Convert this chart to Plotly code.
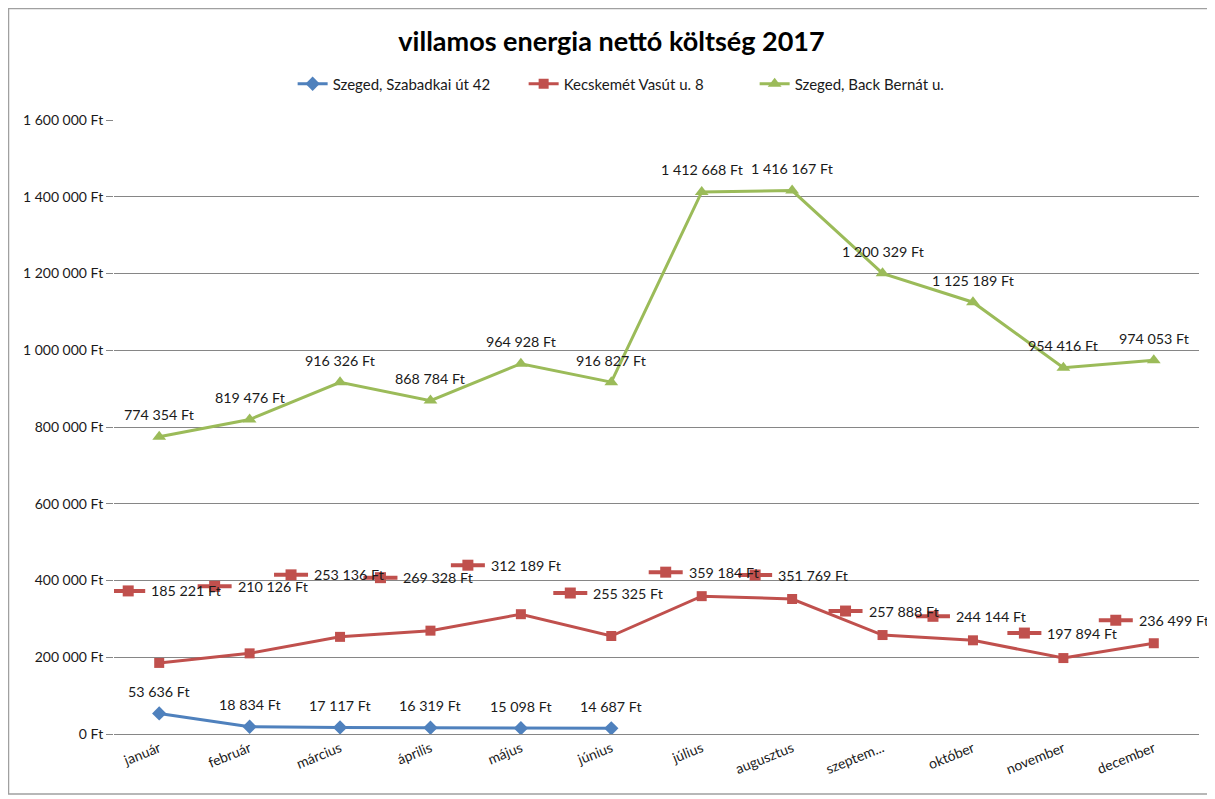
import plotly.graph_objects as go

# data
months = ['január', 'február', 'március', 'április', 'május', 'június',
          'július', 'augusztus', 'szeptem...', 'október', 'november', 'december']
szabadkai = [53636, 18834, 17117, 16319, 15098, 14687]
kecskemet = [185221, 210126, 253136, 269328, 312189, 255325,
             359184, 351769, 257888, 244144, 197894, 236499]
back_bernat = [774354, 819476, 916326, 868784, 964928, 916827,
               1412668, 1416167, 1200329, 1125189, 954416, 974053]

names = ['Szeged, Szabadkai út 42', 'Kecskemét Vasút u. 8', 'Szeged, Back Bernát u.']
colors = ['#4F81BD', '#C0504D', '#9BBB59']

# the red labels were dragged around by hand in excel (pixel offsets of the legend key)
red_key_dx = [-31, -35, -49, -50, -53, -41, -36, -37, -37, -40, -39, -38]
red_key_up = [72, 67, 62, 53, 49, 43, 24, 24, 24, 24, 25, 23]

FONT = 'Lato'
# the page body has an 8px margin, so the figure is 8px smaller than the window
W, H = 1207, 791
ML, MR, MT, MB = 106, 16, 112, 65
LABEL = dict(family=FONT, size=14.3, color='#1a1a1a')


def ft(v):
    # hungarian style: space as thousands separator
    return f'{v:,}'.replace(',', ' ') + ' Ft'


fig = go.Figure()
fig.add_trace(go.Scatter(
    x=months[:len(szabadkai)], y=szabadkai, name=names[0], mode='lines+markers',
    line=dict(color=colors[0], width=3),
    marker=dict(symbol='diamond', size=11, color=colors[0])
))
fig.add_trace(go.Scatter(
    x=months, y=kecskemet, name=names[1], mode='lines+markers',
    line=dict(color=colors[1], width=3),
    marker=dict(symbol='square', size=10, color=colors[1])
))
fig.add_trace(go.Scatter(
    x=months, y=back_bernat, name=names[2], mode='lines+markers',
    line=dict(color=colors[2], width=3),
    marker=dict(symbol='triangle-up', size=12, color=colors[2])
))

annotations = []
shapes = []
# labels above the points for blue and green
for xs, ys in [(months[:len(szabadkai)], szabadkai), (months, back_bernat)]:
    for m, v in zip(xs, ys):
        annotations.append(dict(x=m, y=v, text=ft(v), showarrow=False,
                                xanchor='center', yanchor='middle', yshift=22, font=LABEL))

# red labels with legend key
for i, (m, v) in enumerate(zip(months, kecskemet)):
    dx, up = red_key_dx[i], red_key_up[i]
    shapes.append(dict(type='line', xref='x', yref='y', xsizemode='pixel', ysizemode='pixel',
                       xanchor=m, yanchor=v, x0=dx - 17, x1=dx + 17, y0=up, y1=up,
                       line=dict(color=colors[1], width=4)))
    shapes.append(dict(type='rect', xref='x', yref='y', xsizemode='pixel', ysizemode='pixel',
                       xanchor=m, yanchor=v, x0=dx - 5.5, x1=dx + 5.5, y0=up - 5.5, y1=up + 5.5,
                       fillcolor=colors[1], line=dict(width=0)))
    annotations.append(dict(x=m, y=v, text=ft(v), showarrow=False,
                            xanchor='left', yanchor='middle', xshift=dx + 21, yshift=up,
                            font=LABEL))

# outer border of the chart
pw, ph = W - ML - MR, H - MT - MB
shapes.append(dict(type='rect', xref='paper', yref='paper', layer='below',
                   x0=(0.5 - ML) / pw, x1=(1204 - ML) / pw,
                   y0=(H - MB - 786) / ph, y1=(H - MB - 0.5) / ph,
                   line=dict(color='#a0a0a0', width=1.5)))

fig.update_layout(
    width=W, height=H,
    margin=dict(l=ML, r=MR, t=MT, b=MB),
    paper_bgcolor='white', plot_bgcolor='white',
    separators='. ',
    font=dict(family=FONT, size=12, color='#404040'),
    title=dict(text='<b>villamos energia nettó költség 2017</b>', x=0.5, xanchor='center',
               y=1 - 34 / H, yanchor='middle', font=dict(family=FONT, size=27, color='black')),
    legend=dict(orientation='h', x=0.484, xanchor='center', y=(H - MB - 76) / ph, yanchor='middle',
                font=dict(family=FONT, size=15, color='#1a1a1a'), itemwidth=30,
                entrywidth=186, entrywidthmode='pixels'),
    xaxis=dict(type='category', range=[-0.5, 11.5], tickangle=-22, showgrid=False,
               showline=True, linecolor='#868686', linewidth=1, ticks='',
               tickfont=dict(family=FONT, size=14, color='#1a1a1a'), zeroline=False),
    yaxis=dict(range=[0, 1600000], dtick=200000, tickformat=',d', ticksuffix=' Ft',
               showgrid=True, gridcolor='#868686', gridwidth=1, zeroline=False,
               ticks='outside', ticklen=7, tickcolor='#868686',
               tickfont=dict(family=FONT, size=14, color='#1a1a1a')),
    annotations=annotations,
    shapes=shapes,
)

fig.write_html('out.html')
